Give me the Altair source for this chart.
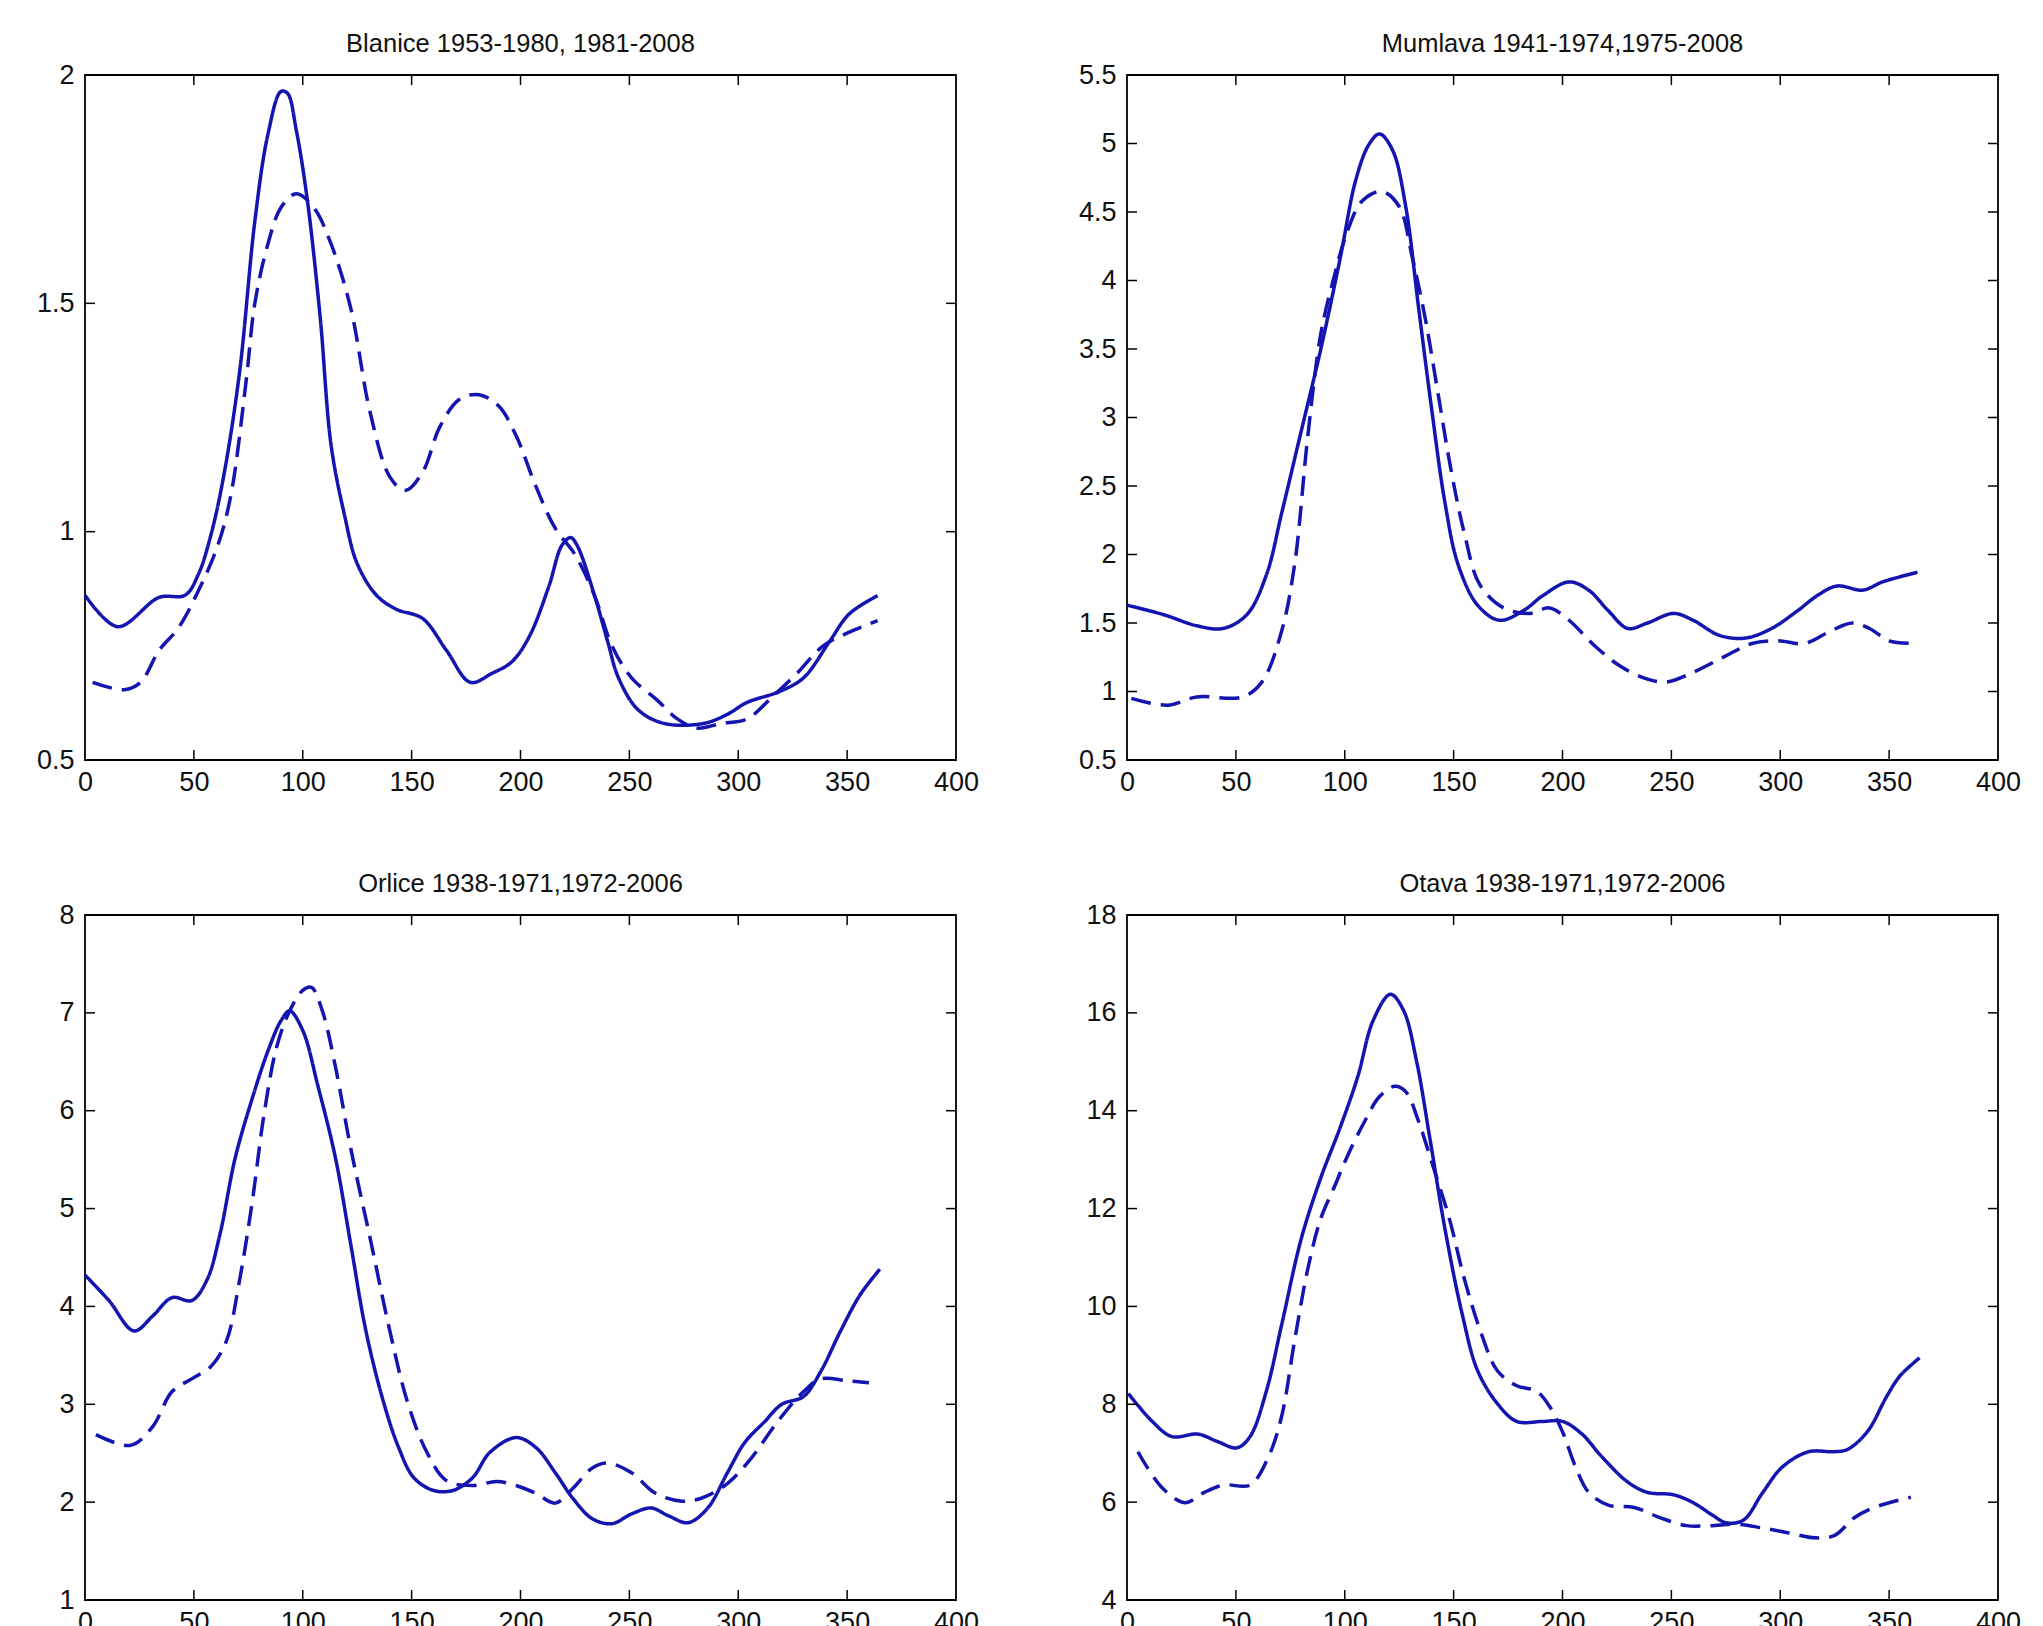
import altair as alt
import pandas as pd

# ---------------- data (day of year vs. discharge) ----------------
blanice_a_x = [0, 15, 34, 46, 52, 58, 64, 71, 78, 84, 90, 93, 97, 102, 108, 113, 119, 125, 134, 143, 155, 166, 177, 187, 196, 204, 213, 219, 223, 226, 234, 240, 245, 254, 266, 284, 295, 304, 319, 330, 342, 351, 364]
blanice_a_y = [0.861, 0.792, 0.856, 0.861, 0.906, 0.996, 1.13, 1.35, 1.68, 1.87, 1.964, 1.96, 1.88, 1.73, 1.47, 1.19, 1.04, 0.93, 0.86, 0.83, 0.81, 0.74, 0.67, 0.69, 0.715, 0.77, 0.88, 0.97, 0.987, 0.97, 0.86, 0.76, 0.68, 0.61, 0.58, 0.58, 0.60, 0.626, 0.65, 0.68, 0.76, 0.82, 0.86]
blanice_b_x = [3.5, 18, 25.5, 34, 43, 52, 61, 67, 74, 78, 84, 90, 97, 105, 113, 122, 131, 140, 147, 155, 163, 172, 181, 190, 198, 207, 216, 225, 234, 242, 251, 263, 272, 281, 292, 304, 316, 327, 339, 351, 364]
blanice_b_y = [0.67, 0.654, 0.67, 0.74, 0.79, 0.87, 0.97, 1.08, 1.33, 1.50, 1.63, 1.71, 1.74, 1.71, 1.63, 1.49, 1.26, 1.12, 1.09, 1.13, 1.23, 1.29, 1.30, 1.275, 1.21, 1.10, 1.007, 0.95, 0.86, 0.75, 0.68, 0.63, 0.59, 0.57, 0.58, 0.59, 0.64, 0.69, 0.75, 0.78, 0.805]

mumlava_a_x = [0, 17, 32, 44, 55, 64, 71, 80, 89, 98, 105, 111, 116, 122, 128, 134, 140, 146, 152, 161, 171, 182, 191, 203, 212, 221, 230, 239, 251, 260, 272, 284, 296, 308, 317, 326, 338, 347, 363]
mumlava_a_y = [1.63, 1.56, 1.48, 1.46, 1.56, 1.85, 2.30, 2.90, 3.50, 4.17, 4.73, 4.99, 5.07, 4.95, 4.54, 3.79, 3.05, 2.38, 1.93, 1.63, 1.52, 1.59, 1.70, 1.80, 1.74, 1.59, 1.46, 1.50, 1.57, 1.52, 1.41, 1.39, 1.46, 1.59, 1.70, 1.77, 1.74, 1.80, 1.87]
mumlava_b_x = [2, 18.6, 32, 53, 62, 71, 77, 83, 89, 95, 101, 108, 117, 125, 131, 137, 143, 149, 155, 162, 173, 185, 194, 203, 215, 227, 239, 248, 260, 275, 287, 299, 311, 323, 333, 341, 350, 363]
mumlava_b_y = [0.95, 0.90, 0.96, 0.96, 1.07, 1.44, 1.93, 2.86, 3.61, 4.02, 4.35, 4.58, 4.65, 4.54, 4.17, 3.72, 3.16, 2.60, 2.15, 1.78, 1.61, 1.57, 1.61, 1.52, 1.33, 1.18, 1.09, 1.07, 1.14, 1.26, 1.35, 1.37, 1.35, 1.44, 1.50, 1.46, 1.37, 1.35]

orlice_a_x = [0, 11, 22.5, 31, 40, 49, 56, 62, 69, 77, 84, 90, 94, 100, 107, 115, 122, 129, 137, 144, 151, 160, 169, 178, 186, 198, 207, 216, 224, 233, 242, 251, 260, 268, 277, 286, 295, 303, 312, 320, 330, 338, 347, 356, 365]
orlice_a_y = [4.32, 4.06, 3.75, 3.90, 4.09, 4.06, 4.27, 4.74, 5.52, 6.14, 6.61, 6.92, 7.02, 6.82, 6.25, 5.52, 4.64, 3.75, 3.03, 2.56, 2.25, 2.12, 2.12, 2.25, 2.51, 2.66, 2.56, 2.30, 2.04, 1.83, 1.78, 1.88, 1.94, 1.86, 1.79, 1.94, 2.30, 2.61, 2.82, 3.00, 3.08, 3.34, 3.75, 4.12, 4.38]
orlice_b_x = [5, 21, 31, 40, 49, 58, 65, 71, 77, 82, 88, 94, 100, 104, 109, 115, 122, 131, 140, 148, 157, 166, 178, 189, 198, 207, 216, 224, 233, 240, 251, 262, 274, 283, 295, 306, 318, 330, 338, 350, 360]
orlice_b_y = [2.69, 2.58, 2.77, 3.13, 3.26, 3.39, 3.65, 4.27, 5.10, 5.93, 6.65, 7.02, 7.23, 7.26, 7.02, 6.45, 5.62, 4.69, 3.75, 3.03, 2.51, 2.22, 2.17, 2.21, 2.17, 2.09, 1.99, 2.14, 2.35, 2.40, 2.30, 2.09, 2.01, 2.04, 2.19, 2.45, 2.82, 3.13, 3.26, 3.24, 3.22]

otava_a_x = [0.6, 11.6, 20.6, 32.6, 41.5, 50.5, 56.5, 64, 71, 80, 89, 98, 106, 113, 121, 127, 133, 139, 146, 154, 161, 170, 179, 191, 200, 209, 218, 230, 239, 251, 260, 269, 275, 283, 292, 301, 313, 325, 331, 340, 349, 355, 364]
otava_a_y = [8.22, 7.65, 7.34, 7.39, 7.24, 7.11, 7.34, 8.27, 9.62, 11.38, 12.63, 13.67, 14.70, 15.84, 16.38, 16.05, 15.01, 13.46, 11.59, 9.83, 8.69, 8.02, 7.65, 7.65, 7.65, 7.39, 6.93, 6.41, 6.20, 6.15, 5.99, 5.73, 5.58, 5.63, 6.20, 6.72, 7.03, 7.03, 7.08, 7.44, 8.17, 8.58, 8.95]
otava_b_x = [5, 16, 26.6, 35.5, 44.5, 56.5, 65, 71, 77, 83, 89, 95, 101, 109, 116, 123, 128, 134, 140, 148, 155, 163, 170, 179, 188, 194, 200, 206, 212, 221, 233, 245, 257, 268, 280, 292, 304, 316, 325, 334, 343, 360]
otava_b_y = [7.03, 6.30, 5.99, 6.20, 6.35, 6.35, 6.93, 7.75, 9.31, 10.76, 11.80, 12.42, 13.05, 13.77, 14.29, 14.50, 14.39, 13.77, 12.94, 11.80, 10.55, 9.41, 8.69, 8.38, 8.27, 7.96, 7.44, 6.72, 6.20, 5.94, 5.89, 5.68, 5.52, 5.52, 5.55, 5.47, 5.37, 5.27, 5.32, 5.68, 5.89, 6.10]

titles = ["Blanice 1953-1980, 1981-2008", "Mumlava 1941-1974,1975-2008",
          "Orlice 1938-1971,1972-2006", "Otava 1938-1971,1972-2006"]
x_ticks = [0, 50, 100, 150, 200, 250, 300, 350, 400]
blanice_y_ticks = [0.5, 1, 1.5, 2]
mumlava_y_ticks = [0.5, 1, 1.5, 2, 2.5, 3, 3.5, 4, 4.5, 5, 5.5]
orlice_y_ticks = [1, 2, 3, 4, 5, 6, 7, 8]
otava_y_ticks = [4, 6, 8, 10, 12, 14, 16, 18]

# ---------------- styling ----------------
W, H = 871, 685
FONT = "Liberation Sans"
BLUE = "#1414b0"
TICK = 10


def panel(title, ax, ay, bx, by, yticks):
    df = pd.concat([
        pd.DataFrame({"day": ax, "q": ay, "period": "first"}),
        pd.DataFrame({"day": bx, "q": by, "period": "second"}),
    ])
    xs = alt.Scale(domain=[0, 400], nice=False, zero=False)
    ys = alt.Scale(domain=[yticks[0], yticks[-1]], nice=False, zero=False)
    xaxis = alt.Axis(values=x_ticks, title=None, grid=False, ticks=False, domain=False,
                     labelFont=FONT, labelFontSize=27, labelColor="#111111",
                     labelPadding=9, labelFlush=False, labelOverlap=False)
    yaxis = alt.Axis(values=yticks, title=None, grid=False, ticks=False, domain=False,
                     format="~g", labelFont=FONT, labelFontSize=27, labelColor="#111111",
                     labelPadding=11, labelFlush=False, labelOverlap=False)

    lines = alt.Chart(df).mark_line(strokeWidth=3.5, color=BLUE, interpolate="catmull-rom").encode(
        x=alt.X("day:Q", scale=xs, axis=xaxis),
        y=alt.Y("q:Q", scale=ys, axis=yaxis),
        strokeDash=alt.StrokeDash("period:N",
                                  scale=alt.Scale(domain=["first", "second"], range=[[1, 0], [20, 10]]),
                                  legend=None),
        detail="period:N",
    )

    xt = pd.DataFrame({"t": x_ticks[1:-1]})
    yt = pd.DataFrame({"t": yticks[1:-1]})
    tick_style = dict(color="black", strokeWidth=1.5)
    xtop = alt.Chart(xt).mark_rule(**tick_style).encode(
        x=alt.X("t:Q", scale=xs, axis=xaxis), y=alt.value(0), y2=alt.value(TICK))
    xbot = alt.Chart(xt).mark_rule(**tick_style).encode(
        x=alt.X("t:Q", scale=xs, axis=xaxis), y=alt.value(H - TICK), y2=alt.value(H))
    yleft = alt.Chart(yt).mark_rule(**tick_style).encode(
        y=alt.Y("t:Q", scale=ys, axis=yaxis), x=alt.value(0), x2=alt.value(TICK))
    yright = alt.Chart(yt).mark_rule(**tick_style).encode(
        y=alt.Y("t:Q", scale=ys, axis=yaxis), x=alt.value(W - TICK), x2=alt.value(W))

    return alt.layer(lines, xtop, xbot, yleft, yright).properties(
        width=W, height=H,
        title=alt.TitleParams(text=title, font=FONT, fontSize=25.5, fontWeight="normal",
                              color="#111111", anchor="middle", baseline="alphabetic", offset=-16),
    )


p1 = panel(titles[0], blanice_a_x, blanice_a_y, blanice_b_x, blanice_b_y, blanice_y_ticks)
p2 = panel(titles[1], mumlava_a_x, mumlava_a_y, mumlava_b_x, mumlava_b_y, mumlava_y_ticks)
p3 = panel(titles[2], orlice_a_x, orlice_a_y, orlice_b_x, orlice_b_y, orlice_y_ticks)
p4 = panel(titles[3], otava_a_x, otava_a_y, otava_b_x, otava_b_y, otava_y_ticks)

chart = alt.concat(p1, p2, p3, p4, columns=2, spacing={"row": 155, "column": 171}, bounds="flush").properties(
    padding={"left": 27, "top": 22, "right": 5, "bottom": 5},
    background="white",
).configure_view(stroke="black", strokeWidth=1.8)

chart.save("out.html", embed_options={"renderer": "svg", "actions": False})
